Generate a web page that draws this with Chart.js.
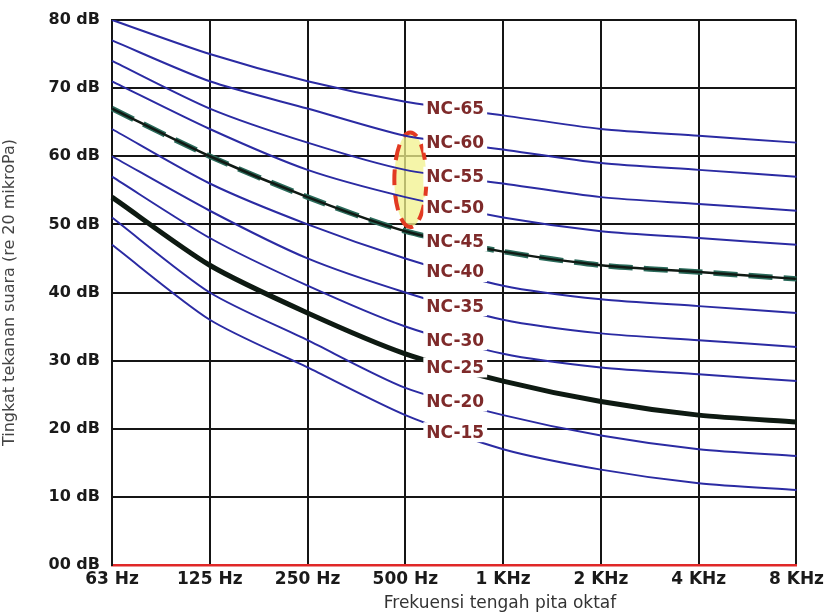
<!DOCTYPE html>
<html>
<head>
<meta charset="utf-8">
<script src="https://cdn.jsdelivr.net/npm/chart.js@4/dist/chart.umd.min.js"></script>
<style>
html,body{margin:0;padding:0;background:#fff;}
#wrap{width:828px;height:615px;}
</style>
</head>
<body>
<div id="wrap"><canvas id="c" width="828" height="615"></canvas></div>
<script>
const categories = ['63 Hz','125 Hz','250 Hz','500 Hz','1 KHz','2 KHz','4 KHz','8 KHz'];
const yTickLabels = ['00 dB','10 dB','20 dB','30 dB','40 dB','50 dB','60 dB','70 dB','80 dB'];
const ncNames = ['NC-65','NC-60','NC-55','NC-50','NC-45','NC-40','NC-35','NC-30','NC-25','NC-20','NC-15'];
const nc65 = [80, 75, 71, 68, 66, 64, 63, 62];
const nc60 = [77, 71, 67, 63, 61, 59, 58, 57];
const nc55 = [74, 67, 62, 58, 56, 54, 53, 52];
const nc50 = [71, 64, 58, 54, 51, 49, 48, 47];
const nc45 = [67, 60, 54, 49, 46, 44, 43, 42];
const nc40 = [64, 56, 50, 45, 41, 39, 38, 37];
const nc35 = [60, 52, 45, 40, 36, 34, 33, 32];
const nc30 = [57, 48, 41, 35, 31, 29, 28, 27];
const nc25 = [54, 44, 37, 31, 27, 24, 22, 21];
const nc20 = [51, 40, 33, 26, 22, 19, 17, 16];
const nc15 = [47, 36, 29, 22, 17, 14, 12, 11];
const ncCurves = [nc65, nc60, nc55, nc50, nc45, nc40, nc35, nc30, nc25, nc20, nc15];
const xTitle = 'Frekuensi tengah pita oktaf';
const yTitle = 'Tingkat tekanan suara (re 20 mikroPa)';

const BLUE = '#2b2ba3';
const datasets = [];
ncCurves.forEach((d, i) => {
  if (d === nc25 || d === nc45) return;
  datasets.push({label: ncNames[i], data: d, borderColor: BLUE, borderWidth: 2, tension: 0.25, pointRadius: 0, fill: false});
});
datasets.push({label: 'NC-45 base', data: nc45, borderColor: '#101a14', borderWidth: 2.5, tension: 0.25, pointRadius: 0, fill: false});
datasets.push({label: 'NC-45 dash', data: nc45, borderColor: '#2a6a5a', borderWidth: 5.5, borderDash: [24, 11], tension: 0.25, pointRadius: 0, fill: false});
datasets.push({label: 'NC-25', data: nc25, borderColor: '#0e1a12', borderWidth: 5, tension: 0.25, pointRadius: 0, fill: false});

const ellipsePlugin = {
  id: 'ellipse',
  beforeDatasetsDraw(chart) {
    const {ctx, scales: {x, y}} = chart;
    const cx = x.getPixelForValue(3) + 5;
    const top = y.getPixelForValue(nc60[3] + 0.5);
    const bot = y.getPixelForValue(nc45[3] + 0.6);
    const cy = (top + bot) / 2, ry = (bot - top) / 2, rx = 16;
    ctx.save();
    ctx.beginPath();
    ctx.ellipse(cx, cy, rx, ry, 0, 0, Math.PI * 2);
    ctx.fillStyle = 'rgba(242,242,140,0.75)';
    ctx.fill();
    ctx.setLineDash([16, 9]);
    ctx.lineWidth = 4;
    ctx.strokeStyle = '#e23a22';
    ctx.stroke();
    ctx.restore();
  }
};

const labelPlugin = {
  id: 'nclabels',
  afterDatasetsDraw(chart) {
    const {ctx, scales: {x, y}} = chart;
    const px = (x.getPixelForValue(3) + x.getPixelForValue(4)) / 2 + 1;
    ctx.save();
    ctx.font = 'bold 17px "DejaVu Sans"';
    ctx.textAlign = 'center';
    ctx.textBaseline = 'middle';
    ncCurves.forEach((d, i) => {
      const py = y.getPixelForValue((d[3] + d[4]) / 2);
      const w = ctx.measureText(ncNames[i]).width;
      ctx.fillStyle = '#ffffff';
      ctx.fillRect(px - w / 2 - 3, py - 10, w + 6, 20);
      ctx.fillStyle = '#7e2a2a';
      ctx.fillText(ncNames[i], px, py + 1);
    });
    ctx.restore();
  },
  afterDraw(chart) {
    const {ctx} = chart;
    ctx.save();
    ctx.font = '17px "DejaVu Sans"';
    ctx.fillStyle = '#333';
    ctx.textAlign = 'center';
    ctx.textBaseline = 'middle';
    ctx.fillText(xTitle, 500, 604);
    ctx.restore();
  }
};

new Chart(document.getElementById('c'), {
  type: 'line',
  data: {labels: categories, datasets},
  options: {
    responsive: false,
    animation: false,
    events: [],
    layout: {padding: {left: 0, right: 31, top: 18, bottom: 0}},
    plugins: {legend: {display: false}, tooltip: {enabled: false}},
    scales: {
      x: {
        offset: false,
        grid: {color: '#151515', lineWidth: 2, drawTicks: false},
        border: {color: '#e02828', width: 2.5},
        ticks: {font: {family: 'DejaVu Sans', weight: 'bold', size: 17}, color: '#1a1a1a', padding: 4, maxRotation: 0, autoSkip: false},
        afterFit(s) { s.height = 50; }
      },
      y: {
        min: 0, max: 80,
        ticks: {stepSize: 10, font: {family: 'DejaVu Sans', weight: 'bold', size: 16, lineHeight: 1}, color: '#1a1a1a', padding: 12,
          callback: (v) => yTickLabels[Math.round(v / 10)]},
        grid: {color: (c) => c.tick && c.tick.value === 0 ? '#e02828' : '#151515', lineWidth: 2, drawTicks: false},
        border: {color: '#151515', width: 2},
        title: {display: true, text: yTitle, font: {family: 'DejaVu Sans', size: 16}, color: '#444', padding: {top: 0, bottom: 0}},
        afterFit(s) { s.width = 112; }
      }
    }
  },
  plugins: [ellipsePlugin, labelPlugin]
});
</script>
</body>
</html>
